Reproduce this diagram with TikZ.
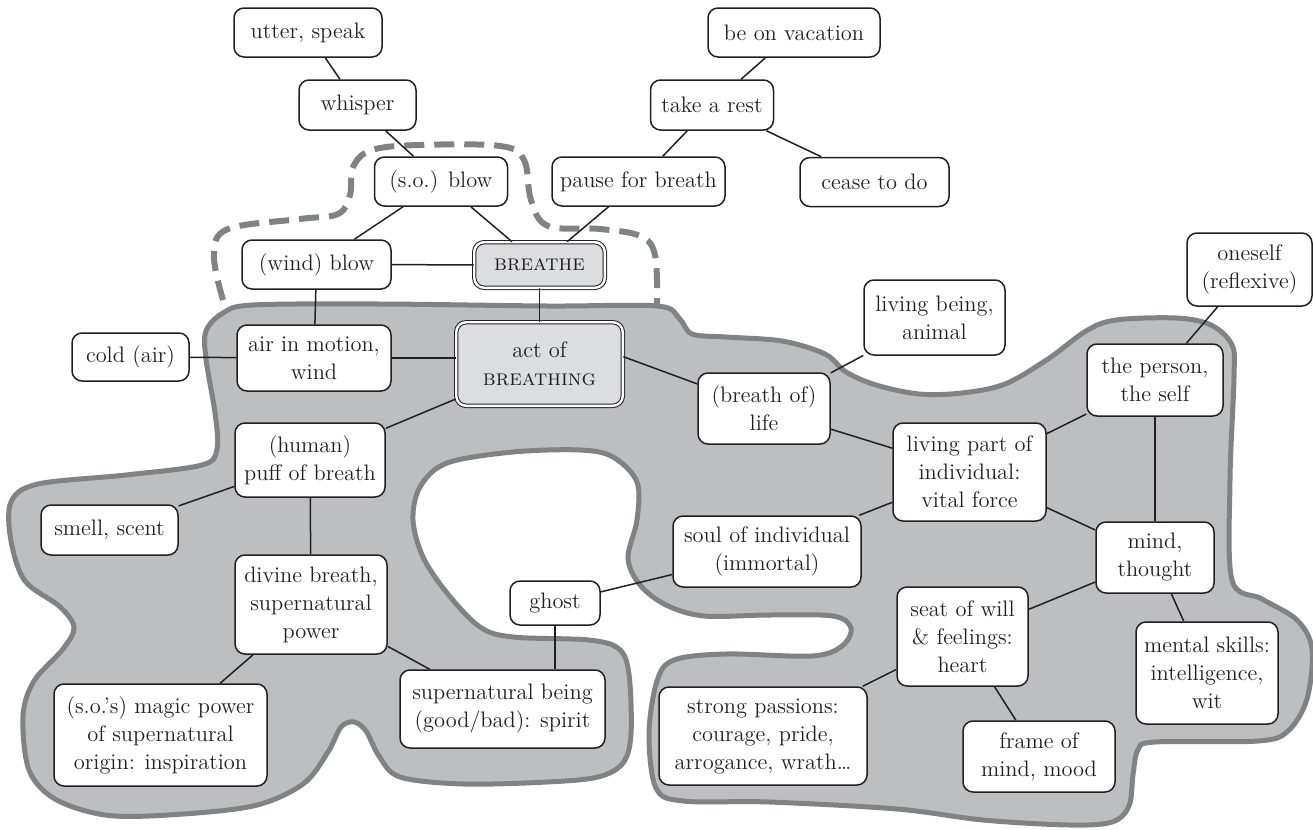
\documentclass[tikz,border=0pt]{standalone}
\usepackage{fontspec}
\usepackage{tikz}
\usetikzlibrary{calc}
\definecolor{blobfill}{RGB}{188,190,192}
\definecolor{blobgrey}{RGB}{128,130,133}
\definecolor{corefill}{RGB}{220,221,223}
\definecolor{inkblack}{RGB}{35,31,32}
\tikzset{
  sense/.style={draw=inkblack, line width=0.75pt, fill=white, rounded corners=5pt,
    align=center, inner sep=2pt, text=inkblack, font=\fontsize{11.2}{14}\selectfont},
  core/.style={sense, double=white, double distance=1.2pt, line width=0.5pt, fill=corefill},
  link/.style={draw=inkblack, line width=0.75pt},
  blob/.style={draw=blobgrey, fill=blobfill, line width=2.5pt},
  dashline/.style={draw=blobgrey, line width=3pt, dash pattern=on 10pt off 5pt},
}

\begin{document}
\begin{tikzpicture}[x=0.5pt, y=-0.5pt]
			%%%%% START %%%%%
			\useasboundingbox (0,0) rectangle (1313,830);
			
			% grey field of the noun senses
			\draw[blob] plot[smooth cycle, tension=0.55] coordinates {
				(223,313) (253,305) (379,304) (547,306) (657,306) (679,318) (692,334) (726,337)
				(782,341) (825,354) (846,372) (876,385) (919,394) (962,393) (1005,384) (1048,359)
				(1086,331) (1116,320) (1176,318) (1211,325) (1232,345) (1234,377) (1230,480) (1232,580)
				(1262,599) (1297,620) (1312,649) (1307,699) (1288,731) (1258,741) (1155,742) (1138,750)
				(1133,775) (1129,806) (1112,822) (1069,825) (983,820) (897,809) (769,802) (683,801)
				(656,788) (649,734) (657,681) (674,660) (726,654) (812,656) (842,646) (851,628)
				(833,616) (769,615) (704,616) (666,605) (640,585) (628,558) (637,520) (637,482)
				(613,457) (580,450) (513,452) (447,463) (420,487) (413,520) (423,557) (447,593)
				(480,627) (513,637) (589,640) (619,649) (629,674) (631,734) (623,763) (598,777)
				(547,782) (463,784) (400,777) (379,756) (366,731) (354,722) (341,727) (328,752)
				(303,784) (253,806) (168,815) (105,815) (55,799) (29,770) (23,716) (34,681)
				(63,649) (74,627) (59,606) (25,581) (11,541) (11,502) (38,484) (126,475)
				(202,465) (217,449) (215,413) (206,359) (206,331)};
			
			% dashed field of the verb senses
			\draw[dashline] plot[smooth, tension=0.6] coordinates {
				(223,300) (214,255) (228,229) (300,219) (338,214) (350,195) (353,167) (372,150)
				(420,145) (500,146) (524,160) (531,200) (548,226) (600,229) (640,236) (655,255) (657,305)};
			
			% verbs
			\node[sense, minimum width=74pt, minimum height=24.5pt] (utter) at (308,32.5) {utter, speak};
			\node[sense, minimum width=58.5pt, minimum height=25pt] (whisper) at (357.5,105) {whisper};
			\node[sense, minimum width=66.5pt, minimum height=24.5pt] (soblow) at (441,181.5) {(s.o.) blow};
			\node[sense, minimum width=86pt, minimum height=24.5pt] (vacation) at (794,32.5) {be on vacation};
			\node[sense, minimum width=61.5pt, minimum height=25pt] (rest) at (712,105) {take a rest};
			\node[sense, minimum width=86.5pt, minimum height=24.5pt] (pause) at (638.5,181.5) {pause for breath};
			\node[sense, minimum width=74.5pt, minimum height=24.5pt] (cease) at (874.5,182) {cease to do};
			\node[sense, minimum width=74.5pt, minimum height=24.5pt] (windblow) at (316.5,264.5) {(wind) blow};
			\node[core, minimum width=65.3pt, minimum height=22.8pt] (breathe) at (539.5,265) {\textsc{breathe}};
			
			% nouns
			\node[sense, minimum width=58.5pt, minimum height=24pt] (cold) at (130.5,357) {cold (air)};
			\node[sense, minimum width=77pt, minimum height=33pt] (airmotion) at (314,358) {air in motion,\\wind};
			\node[core, minimum width=83.3pt, minimum height=41.8pt] (act) at (539.5,364) {act of\\\textsc{breathing}};
			\node[sense, minimum width=70.5pt, minimum height=37.5pt] (being) at (934.5,317.5) {living being,\\animal};
			\node[sense, minimum width=62.5pt, minimum height=36.5pt] (oneself) at (1249.5,269.5) {oneself\\(reflexive)};
			\node[sense, minimum width=66pt, minimum height=35.5pt] (life) at (764,408.5) {(breath of)\\life};
			\node[sense, minimum width=68pt, minimum height=36pt] (person) at (1155,380) {the person,\\the self};
			\node[sense, minimum width=75pt, minimum height=37pt] (puff) at (310,460) {(human)\\puff of breath};
			\node[sense, minimum width=76.5pt, minimum height=49pt] (vital) at (969.5,472) {living part of\\individual:\\vital force};
			\node[sense, minimum width=68.5pt, minimum height=25pt] (smell) at (109.5,530) {smell, scent};
			\node[sense, minimum width=94pt, minimum height=35.5pt] (soul) at (767,551.5) {soul of individual\\(immortal)};
			\node[sense, minimum width=59pt, minimum height=35.5pt] (mind) at (1155,557.5) {mind,\\thought};
			\node[sense, minimum width=76pt, minimum height=49.5pt] (divine) at (311,604.5) {divine breath,\\supernatural\\power};
			\node[sense, minimum width=45pt, minimum height=22pt] (ghost) at (555,603) {ghost};
			\node[sense, minimum width=65.5pt, minimum height=49.5pt] (seat) at (962.5,636.5) {seat of will\\\& feelings:\\heart};
			\node[sense, minimum width=71pt, minimum height=51pt] (mental) at (1207,673) {mental skills:\\intelligence,\\wit};
			\node[sense, minimum width=102.5pt, minimum height=39pt] (spirit) at (502.5,709) {supernatural being\\(good/bad): spirit};
			\node[sense, minimum width=106.5pt, minimum height=51pt] (magic) at (160.5,735) {(s.o.'s) magic power\\of supernatural\\origin: inspiration};
			\node[sense, minimum width=104pt, minimum height=49pt] (passions) at (763,736) {strong passions:\\courage, pride,\\arrogance, wrath\ldots};
			\node[sense, minimum width=76pt, minimum height=35.5pt] (frame) at (1039,756.5) {frame of\\mind, mood};
			
			% links
			\draw[link] (utter) -- (whisper);
			\draw[link] (whisper) -- (soblow);
			\draw[link] (soblow) -- (windblow);
			\draw[link] (soblow) -- (breathe);
			\draw[link] (vacation) -- (rest);
			\draw[link] (rest) -- (pause);
			\draw[link] (rest) -- (cease);
			\draw[link] (pause) -- (breathe);
			\draw[link] (windblow) -- (breathe);
			\draw[link] (windblow) -- (airmotion);
			\draw[link] (breathe) -- (act);
			\draw[link] (cold) -- (airmotion);
			\draw[link] (airmotion.east) -- (airmotion.east -| act.west);
			\draw[link] (act) -- (puff);
			\draw[link] (act.5) -- (life);
			\draw[link] (life) -- (being);
			\draw[link] (life) -- (vital);
			\draw[link] (vital) -- (person);
			\draw[link] (vital) -- (soul);
			\draw[link] (vital) -- (mind);
			\draw[link] (person) -- (oneself);
			\draw[link] (person) -- (mind);
			\draw[link] (puff) -- (smell);
			\draw[link] (puff) -- (divine);
			\draw[link] (divine) -- (magic);
			\draw[link] (divine) -- (spirit);
			\draw[link] (ghost) -- (ghost |- spirit.north);
			\draw[link] (ghost) -- (soul);
			\draw[link] (mind) -- (seat);
			\draw[link] (mind) -- (mental);
			\draw[link] (seat) -- (passions);
			\draw[link] (seat) -- (frame);
			
			%%%%% END %%%%%
\end{tikzpicture}
\end{document}
